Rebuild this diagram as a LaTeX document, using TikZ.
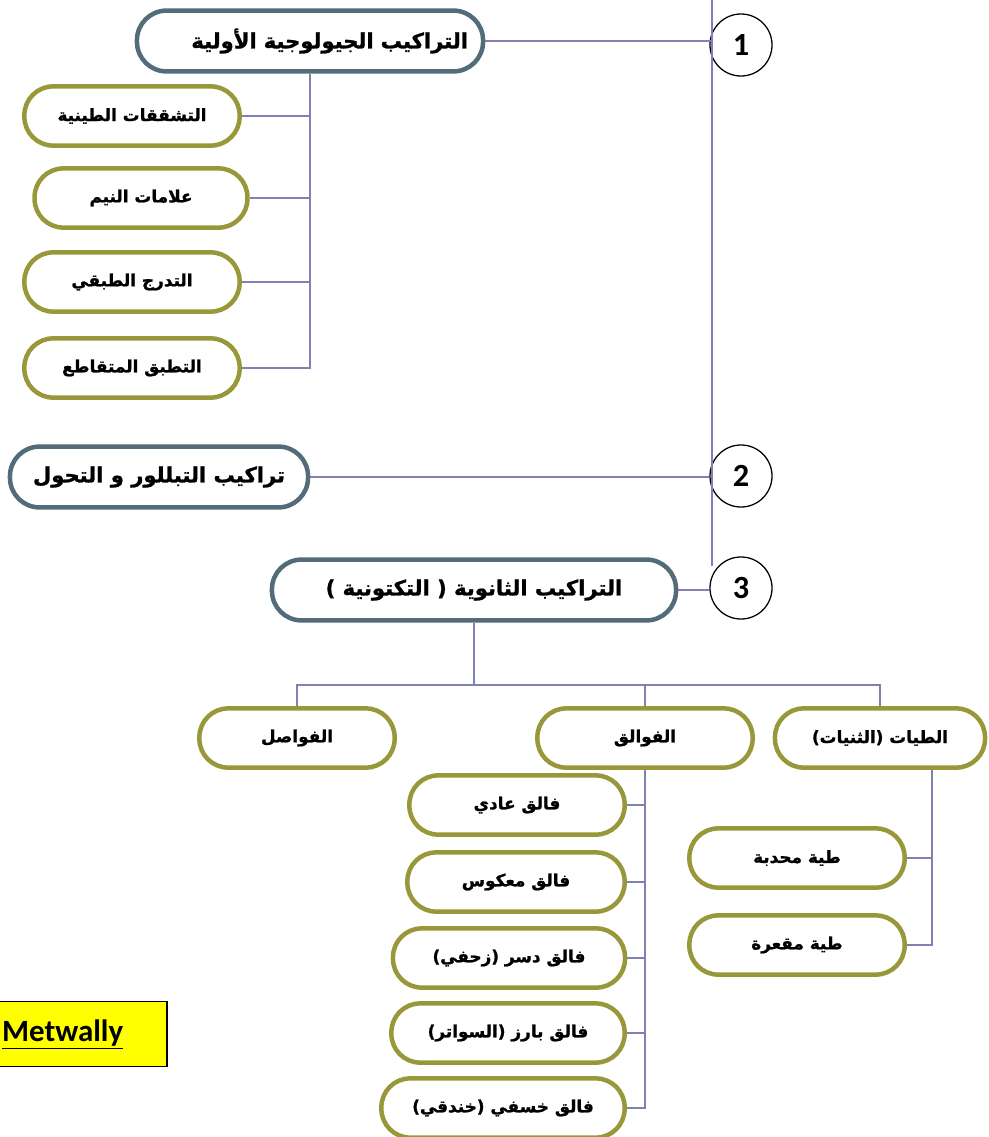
\documentclass[tikz,border=0pt]{standalone}
\usepackage{fontspec}
\newfontfamily\arabicfont[Script=Arabic, BoldFeatures={FakeBold=1.2}]{DejaVu Sans}
\newfontfamily\numfont{Carlito}
\TeXXeTstate=1
\usepackage{xcolor}
\definecolor{slateBorder}{RGB}{82,108,122}
\definecolor{oliveBorder}{RGB}{152,152,58}
\definecolor{linkBlue}{RGB}{128,128,178}
\definecolor{noteYellow}{RGB}{255,255,0}

\begin{document}
\begin{tikzpicture}[x=0.025cm, y=-0.025cm,
        mainbox/.style={draw=slateBorder, line width=3.2pt, rounded corners=0.74cm,
            minimum height=1.52cm, font=\arabicfont\bfseries\fontsize{15}{18}\selectfont},
        subbox/.style={draw=oliveBorder, line width=3.2pt, rounded corners=0.72cm,
            minimum height=1.48cm, font=\arabicfont\bfseries\fontsize{12}{14}\selectfont},
        numcircle/.style={draw, circle, line width=0.9pt, minimum size=1.55cm, inner sep=0pt,
            font=\numfont\bfseries\fontsize{23}{26}\selectfont},
        link/.style={draw=linkBlue, line width=1.3pt}]
        \useasboundingbox (0,0) rectangle (988,1137);

        % numbered circles
        \node[numcircle] (c1) at (741,45) {1};
        \node[numcircle] (c2) at (741,476) {2};
        \node[numcircle] (c3) at (741,588) {3};

        % main groups
        \node[mainbox, minimum width=8.65cm, text width=7.9cm, align=right] (primary) at (310,41)
            {\beginR التراكيب الجيولوجية الأولية\endR};
        \node[mainbox, minimum width=7.45cm] (meta) at (159,477)
            {\beginR تراكيب التبللور و التحول\endR};
        \node[mainbox, minimum width=10.1cm] (second) at (474,590)
            {\beginR التراكيب الثانوية ( التكتونية )\endR};

        % primary structures
        \node[subbox, minimum width=5.38cm] (p1) at (132,116) {\beginR التشققات الطينية\endR};
        \node[subbox, minimum width=5.32cm] (p2) at (141,198) {\beginR علامات النيم\endR};
        \node[subbox, minimum width=5.38cm] (p3) at (132,282) {\beginR التدرج الطبقي\endR};
        \node[subbox, minimum width=5.38cm] (p4) at (132,368) {\beginR التطبق المتقاطع\endR};

        % secondary structures
        \node[subbox, minimum width=4.88cm] (joints) at (297,738) {\beginR الفواصل\endR};
        \node[subbox, minimum width=5.38cm] (faults) at (645,738) {\beginR الفوالق\endR};
        \node[subbox, minimum width=5.25cm] (folds) at (880,738) {\beginR الطيات (الثنيات)\endR};

        % faults
        \node[subbox, minimum width=5.38cm] (f1) at (517,805) {\beginR فالق عادي\endR};
        \node[subbox, minimum width=5.43cm] (f2) at (516,882) {\beginR فالق معكوس\endR};
        \node[subbox, minimum width=5.8cm] (f3) at (509,958) {\beginR فالق دسر (زحفي)\endR};
        \node[subbox, minimum width=5.83cm] (f4) at (508,1033) {\beginR فالق بارز (السواتر)\endR};
        \node[subbox, minimum width=6.08cm] (f5) at (503,1108) {\beginR فالق خسفي (خندقي)\endR};

        % folds
        \node[subbox, minimum width=5.38cm] (fd1) at (797,858) {\beginR طية محدبة\endR};
        \node[subbox, minimum width=5.38cm] (fd2) at (797,945) {\beginR طية مقعرة\endR};

        % note
        \node[draw=black, fill=noteYellow, line width=0.8pt, minimum width=4.3cm,
            minimum height=1.62cm, inner xsep=0.18cm, text width=3.94cm, align=left,
            font=\numfont\bfseries\fontsize{22}{26}\selectfont] (note) at (81,1034)
            {\underline{Metwally}};

        % spine
        \coordinate (spinetop) at (712,0);
        \draw[link] (spinetop) -- (spinetop |- c3.north west);
        \draw[link] (primary.east) -- (primary.east -| spinetop);
        \draw[link] (meta.east) -- (meta.east -| c2.west);
        \draw[link] (second.east) -- (second.east -| c3.west);

        % primary branch
        \draw[link] (primary.south) |- (p4.east);
        \foreach \n in {p1,p2,p3}
            \draw[link] (\n.east) -- (\n.east -| primary.south);

        % secondary branch
        \coordinate (bar) at (474,685);
        \draw[link] (second.south) -- (bar);
        \draw[link] (joints.north) |- (bar) -| (folds.north);
        \draw[link] (faults.north) -- (faults.north |- bar);

        \draw[link] (faults.south) |- (f5.east);
        \foreach \n in {f1,f2,f3,f4}
            \draw[link] (\n.east) -- (\n.east -| faults.south);

        \coordinate (foldtrunk) at ([xshift=1.3cm]folds.south);
        \draw[link] (foldtrunk) |- (fd2.east);
        \draw[link] (fd1.east) -- (fd1.east -| foldtrunk);
\end{tikzpicture}
\end{document}
